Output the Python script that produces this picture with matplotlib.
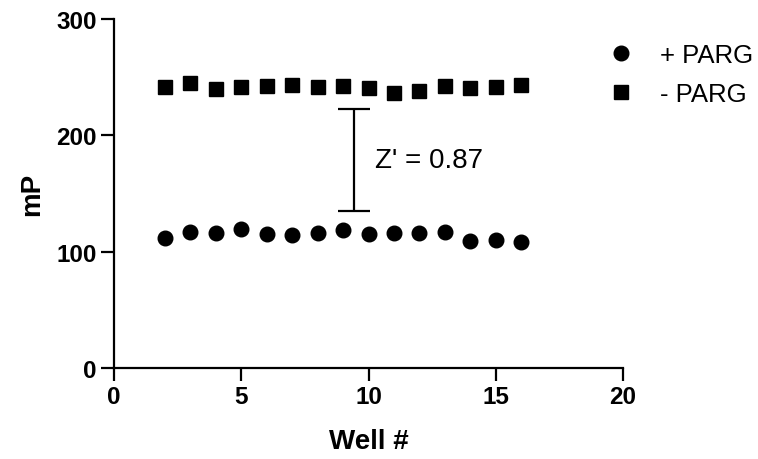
import matplotlib
matplotlib.use('Agg')
import matplotlib.pyplot as plt

plt.rcParams['font.family'] = ['Liberation Sans', 'DejaVu Sans']

# ── DATA ──
wells = [2, 3, 4, 5, 6, 7, 8, 9, 10, 11, 12, 13, 14, 15, 16]
plus_parg = [111.4, 116.5, 116.0, 119.1, 114.8, 113.9, 115.7, 118.3,
             115.1, 116.2, 116.0, 116.5, 109.3, 109.7, 107.9]
minus_parg = [241.4, 244.8, 239.7, 241.9, 242.8, 243.3, 241.5, 242.3,
              241.0, 236.3, 238.2, 242.2, 240.9, 241.9, 243.3]

# Z' window drawn between the two populations
zp_x = 9.43
zp_low = 134.9
zp_high = 222.7
zp_text = "Z' = 0.87"

x_ticks = [0, 5, 10, 15, 20]
y_ticks = [0, 100, 200, 300]

# ── FIGURE ──
fig = plt.figure(figsize=(7.58, 4.60), dpi=100)
ax = fig.add_axes([0.1504, 0.198, 0.6716, 0.7585])

ax.plot(wells, plus_parg, 'o', color='black', markersize=10.5, label='+ PARG', clip_on=False)
ax.plot(wells, minus_parg, 's', color='black', markersize=10, label='- PARG', clip_on=False)

# Z' bar
zp_mid = (zp_low + zp_high) / 2
zp_half = (zp_high - zp_low) / 2
ax.errorbar([zp_x], [zp_mid], yerr=[zp_half], fmt='none', ecolor='black',
            elinewidth=1.6, capsize=11.5, capthick=1.6)
ax.text(zp_x + 0.83, zp_mid, zp_text, fontsize=20, va='center', ha='left')

ax.set_xlim(0, 20)
ax.set_ylim(0, 300)
ax.set_xticks(x_ticks)
ax.set_yticks(y_ticks)

for side in ['top', 'right']:
    ax.spines[side].set_visible(False)
for side in ['left', 'bottom']:
    ax.spines[side].set_linewidth(1.6)

ax.tick_params(axis='both', length=9.5, width=1.6, labelsize=17.5, pad=3)
for lbl in ax.get_xticklabels() + ax.get_yticklabels():
    lbl.set_fontweight('bold')

ax.set_xlabel('Well #', fontsize=20, fontweight='bold', labelpad=14)
ax.set_ylabel('mP', fontsize=20, fontweight='bold', labelpad=8)

fig.legend(loc='upper left', bbox_to_anchor=(0.765, 0.955), frameon=False,
           fontsize=18.5, handletextpad=0.8, labelspacing=0.6, markerscale=1.0,
           handlelength=1.4)

fig.savefig('out.png', dpi=100)
